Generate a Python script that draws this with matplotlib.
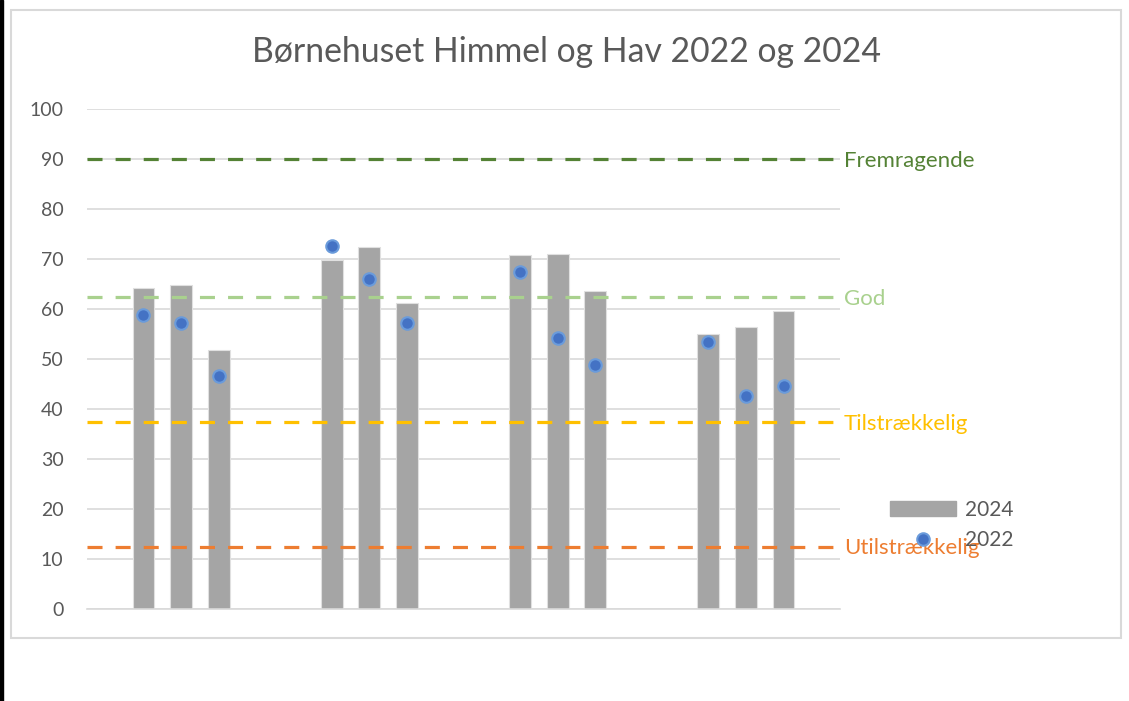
"""
Børnehuset Himmel og Hav: 2024 bars vs 2022 points, with quality thresholds
"""
import matplotlib.pyplot as plt
from matplotlib.patches import Rectangle
from matplotlib.lines import Line2D
import numpy as np

plt.rcParams['font.family'] = ['Lato', 'DejaVu Sans']

title = "Børnehuset Himmel og Hav 2022 og 2024"
values_2024 = [64.3, 64.9, 51.9, 69.9, 72.5, 61.2, 70.8, 71.1, 63.6, 55.1, 56.5, 59.7]
values_2022 = [58.9, 57.3, 46.7, 72.6, 66.1, 57.3, 67.4, 54.3, 48.9, 53.5, 42.7, 44.7]
levels = [90, 62.5, 37.5, 12.5]
level_names = ["Fremragende", "God", "Tilstrækkelig", "Utilstrækkelig"]
level_colors = ["#548235", "#A9D18E", "#FFC000", "#ED7D31"]
yticks = np.arange(0, 101, 10)

n_groups, per_group, slot = 4, 3, 5
pos = np.array([slot * g + 1 + k for g in range(n_groups) for k in range(per_group)])

fig = plt.figure(figsize=(11.29, 7.01), dpi=100)
ax = fig.add_axes([87 / 1129, 1 - 609 / 701, (840 - 87) / 1129, 500 / 701])

ax.bar(pos, values_2024, width=0.58, color="#A5A5A5", edgecolor="#E0E0E0",
       linewidth=0.8, zorder=2, label="2024")
ax.plot(pos, values_2022, ls="none", marker="o", ms=9, mfc="#4472C4",
        mec="#6A9BDB", mew=1.5, zorder=4, label="2022")

for lv, name, c in zip(levels, level_names, level_colors):
    ax.plot([-0.5, n_groups * slot - 0.5], [lv, lv], ls=(0, (4.7, 4.1)), lw=2.3,
            color=c, zorder=3)
    ax.text(844 / 1129, 1 - (611 - lv * 5) / 701, name, transform=fig.transFigure,
            color=c, fontsize=16, va="center", ha="left")

ax.set_xlim(-0.5, n_groups * slot - 0.5)
ax.set_ylim(0, 100)
ax.set_yticks(yticks)
ax.set_xticks([])
ax.grid(axis="y", color="#D9D9D9", lw=1.2, zorder=0)
ax.set_axisbelow(True)
for s in ["top", "right", "left"]:
    ax.spines[s].set_visible(False)
ax.spines["bottom"].set_color("#D9D9D9")
ax.spines["bottom"].set_linewidth(1.2)
ax.tick_params(axis="y", length=0, pad=17, labelsize=14, labelcolor="#595959")

fig.text(566 / 1129, 1 - 52 / 701, title, ha="center", va="center",
         fontsize=24.3, color="#595959")

handles = [Rectangle((0, 0), 1, 1, color="#A5A5A5"),
           Line2D([], [], ls="none", marker="o", ms=9, mfc="#4472C4",
                  mec="#6A9BDB", mew=1.5)]
leg = fig.legend(handles, ["2024", "2022"], loc="upper left",
                 bbox_to_anchor=(871 / 1129, 1 - 481 / 701), frameon=False,
                 fontsize=15, handlelength=3.2, handleheight=0.7,
                 labelspacing=0.5, handletextpad=0.4, labelcolor="#595959")

# chart border and left black edge
fig.patches.append(Rectangle((11 / 1129, 1 - 638 / 701), 1110 / 1129, 628 / 701,
                             transform=fig.transFigure, fill=False,
                             edgecolor="#D9D9D9", lw=1.5))
fig.patches.append(Rectangle((0, 0), 3 / 1129, 1, transform=fig.transFigure,
                             color="black"))

fig.savefig("out.png", dpi=100)
